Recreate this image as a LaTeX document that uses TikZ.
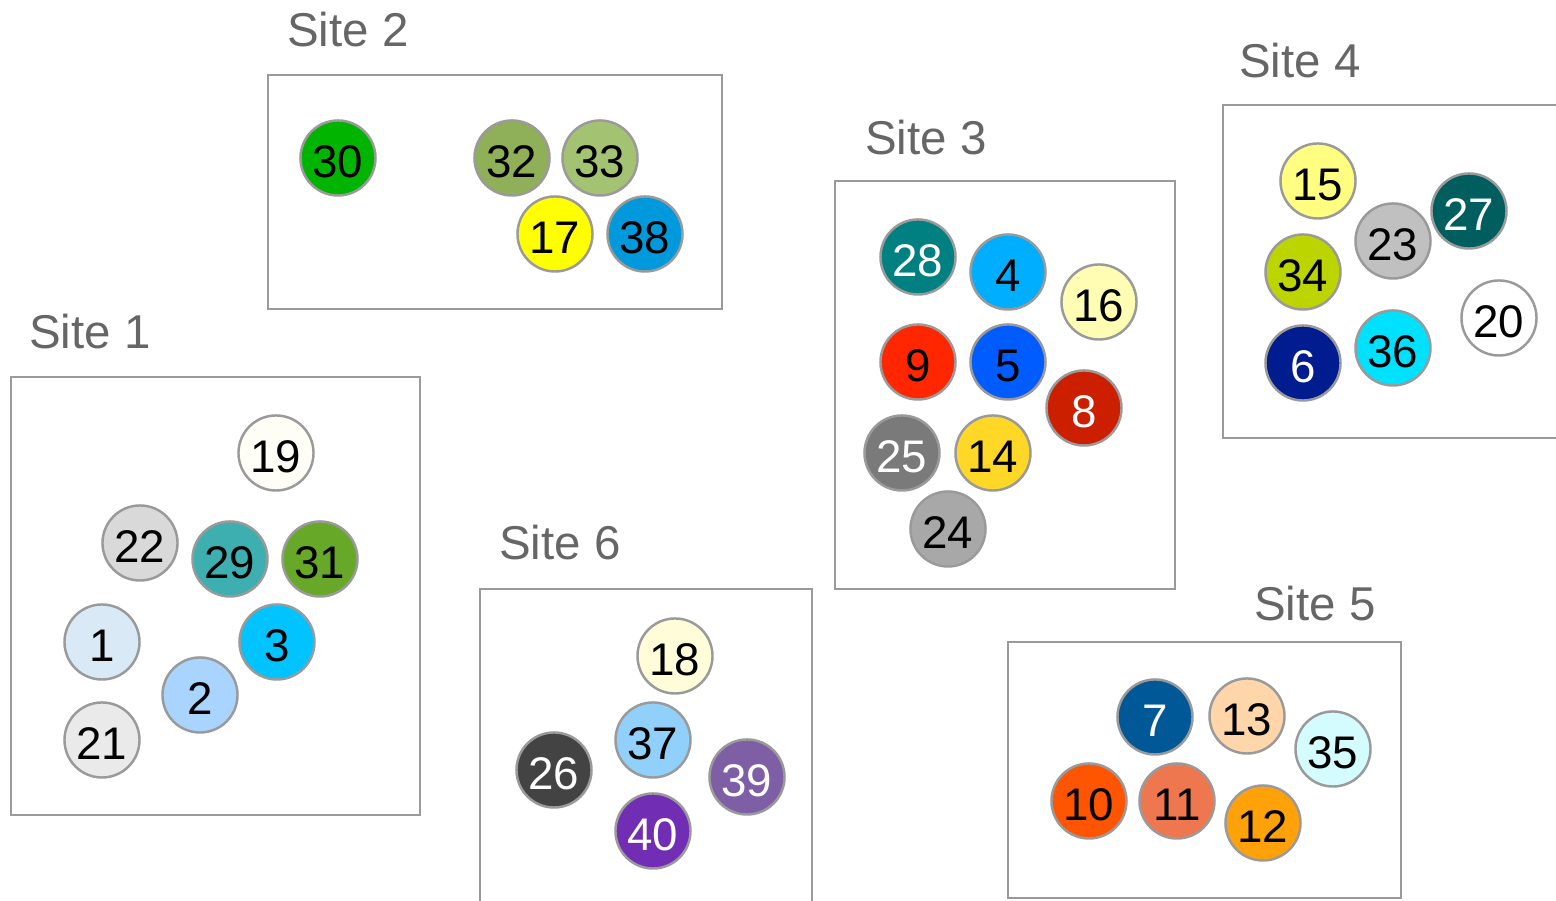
\documentclass[tikz,border=0pt]{standalone}
\usepackage{fontspec}
\setmainfont{Liberation Sans}
\usepackage{xcolor}
\definecolor{frame}{HTML}{9A9A9A}
\definecolor{sitetxt}{HTML}{666666}
\definecolor{c1}{HTML}{D9EAF6}
\definecolor{c2}{HTML}{A8D4FF}
\definecolor{c3}{HTML}{00C3FF}
\definecolor{c4}{HTML}{00AEFF}
\definecolor{c5}{HTML}{005CFF}
\definecolor{c6}{HTML}{001C8F}
\definecolor{c7}{HTML}{005897}
\definecolor{c8}{HTML}{CC1F00}
\definecolor{c9}{HTML}{FF2600}
\definecolor{c10}{HTML}{FF5500}
\definecolor{c11}{HTML}{EE7750}
\definecolor{c12}{HTML}{FFA20A}
\definecolor{c13}{HTML}{FFD6AA}
\definecolor{c14}{HTML}{FFD726}
\definecolor{c15}{HTML}{FFFE80}
\definecolor{c16}{HTML}{FFFCB3}
\definecolor{c17}{HTML}{FFFF00}
\definecolor{c18}{HTML}{FFFDD9}
\definecolor{c19}{HTML}{FEFEF6}
\definecolor{c20}{HTML}{FFFFFF}
\definecolor{c21}{HTML}{EAEAEA}
\definecolor{c22}{HTML}{D9D9D9}
\definecolor{c23}{HTML}{C0C0C0}
\definecolor{c24}{HTML}{A8A8A8}
\definecolor{c25}{HTML}{7A7A7A}
\definecolor{c26}{HTML}{434343}
\definecolor{c27}{HTML}{005E5E}
\definecolor{c28}{HTML}{008080}
\definecolor{c29}{HTML}{3DAFB1}
\definecolor{c30}{HTML}{00B400}
\definecolor{c31}{HTML}{68A828}
\definecolor{c32}{HTML}{8FAF58}
\definecolor{c33}{HTML}{A3C373}
\definecolor{c34}{HTML}{BCD400}
\definecolor{c35}{HTML}{D4FCFF}
\definecolor{c36}{HTML}{00E1FF}
\definecolor{c37}{HTML}{90D0FA}
\definecolor{c38}{HTML}{0099DC}
\definecolor{c39}{HTML}{7E5FA6}
\definecolor{c40}{HTML}{722DB5}

\begin{document}
\begin{tikzpicture}[x=0.01cm,y=-0.01cm,
  sitebox/.style={draw=frame,line width=0.8pt},
  sitelabel/.style={text=sitetxt,font=\fontsize{13.5}{16}\selectfont,inner sep=0pt},
  ball/.style={circle,draw=frame,line width=0.7pt,minimum size=0.75cm,inner sep=0pt,
    text height=11pt,text depth=0pt,font=\fontsize{13}{15}\selectfont},
  dark/.style={ball,text=white}]
  \useasboundingbox (0,0) rectangle (1556,901);

  % Sites
  \draw[sitebox] (11,377) rectangle (420,815);
  \node[sitelabel] (lab1) at (90,332) {Site 1};
  \draw[sitebox] (268,75) rectangle (722,309);
  \node[sitelabel] (lab2) at (348,30) {Site 2};
  \draw[sitebox] (835,181) rectangle (1175,589);
  \node[sitelabel] (lab3) at (926,138) {Site 3};
  \draw[sitebox] (1223,105) rectangle (1600,438);
  \node[sitelabel] (lab4) at (1300,61) {Site 4};
  \draw[sitebox] (1008,642) rectangle (1401,898);
  \node[sitelabel] (lab5) at (1315,604) {Site 5};
  \draw[sitebox] (480,589) rectangle (812,950);
  \node[sitelabel] (lab6) at (560,543) {Site 6};

  % Site 1
  \node[ball,fill=c19] (n19) at (276,453) {19};
  \node[ball,fill=c22] (n22) at (140,543) {22};
  \node[ball,fill=c29] (n29) at (230,559) {29};
  \node[ball,fill=c31] (n31) at (320,559) {31};
  \node[ball,fill=c1] (n1) at (102,642) {1};
  \node[ball,fill=c3] (n3) at (277,642) {3};
  \node[ball,fill=c2] (n2) at (200,695) {2};
  \node[ball,fill=c21] (n21) at (102,740) {21};

  % Site 2
  \node[ball,fill=c30] (n30) at (338,158) {30};
  \node[ball,fill=c32] (n32) at (512,158) {32};
  \node[ball,fill=c33] (n33) at (600,158) {33};
  \node[ball,fill=c17] (n17) at (555,234) {17};
  \node[ball,fill=c38] (n38) at (645,234) {38};

  % Site 3
  \node[dark,fill=c28] (n28) at (918,257) {28};
  \node[ball,fill=c4] (n4) at (1008,272) {4};
  \node[ball,fill=c16] (n16) at (1099,302) {16};
  \node[ball,fill=c9] (n9) at (918,362) {9};
  \node[ball,fill=c5] (n5) at (1008,362) {5};
  \node[dark,fill=c8] (n8) at (1084,408) {8};
  \node[dark,fill=c25] (n25) at (902,453) {25};
  \node[ball,fill=c14] (n14) at (993,453) {14};
  \node[ball,fill=c24] (n24) at (948,529) {24};

  % Site 4
  \node[ball,fill=c15] (n15) at (1318,181) {15};
  \node[dark,fill=c27] (n27) at (1469,211) {27};
  \node[ball,fill=c23] (n23) at (1393,241) {23};
  \node[ball,fill=c34] (n34) at (1303,272) {34};
  \node[ball,fill=c20] (n20) at (1499,318) {20};
  \node[ball,fill=c36] (n36) at (1393,348) {36};
  \node[dark,fill=c6] (n6) at (1303,363) {6};

  % Site 5
  \node[dark,fill=c7] (n7) at (1155,717) {7};
  \node[ball,fill=c13] (n13) at (1247,716) {13};
  \node[ball,fill=c35] (n35) at (1333,749) {35};
  \node[ball,fill=c10] (n10) at (1089,801) {10};
  \node[ball,fill=c11] (n11) at (1177,801) {11};
  \node[ball,fill=c12] (n12) at (1263,823) {12};

  % Site 6
  \node[ball,fill=c18] (n18) at (675,656) {18};
  \node[ball,fill=c37] (n37) at (653,740) {37};
  \node[dark,fill=c26] (n26) at (554,770) {26};
  \node[dark,fill=c39] (n39) at (747,777) {39};
  \node[dark,fill=c40] (n40) at (653,831) {40};
\end{tikzpicture}
\end{document}
